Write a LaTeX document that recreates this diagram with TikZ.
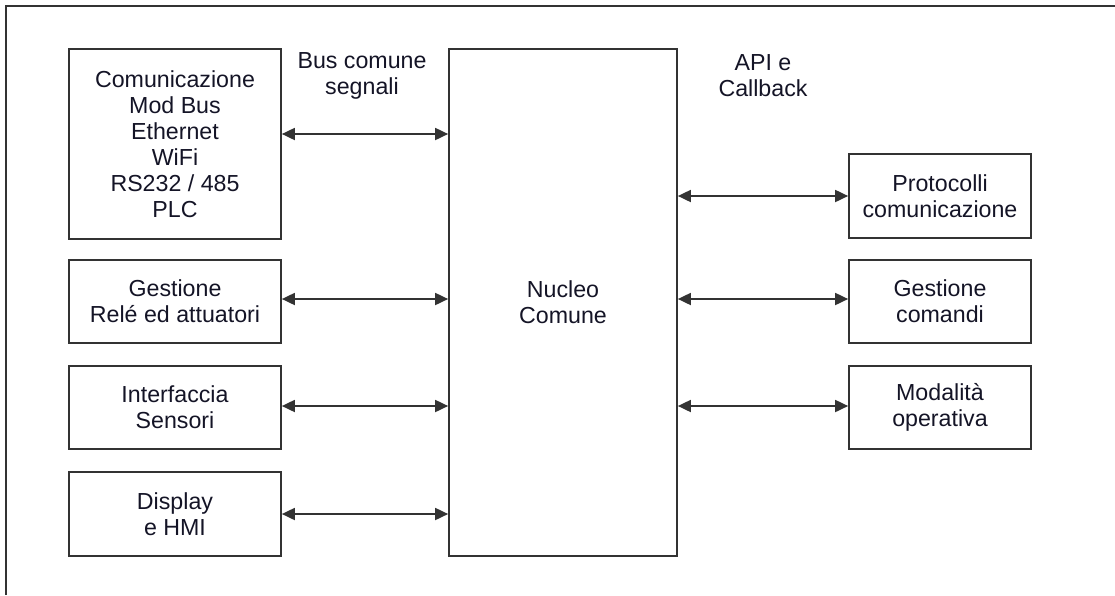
\documentclass[tikz,border=0pt]{standalone}
\usepackage{fontspec}
\setmainfont{Liberation Sans}
\usetikzlibrary{arrows.meta}
\definecolor{ln}{rgb}{0.2,0.2,0.2}
\definecolor{tx}{rgb}{0.08,0.08,0.15}
\begin{document}
\begin{tikzpicture}[x=1pt,y=-1pt,
  box/.style={draw=ln,line width=1.7pt,align=center,text=tx,inner sep=0pt,
    font=\fontsize{23.2}{26}\selectfont},
  lbl/.style={align=center,text=tx,inner sep=0pt,font=\fontsize{23.2}{26}\selectfont},
  arr/.style={draw=ln,line width=1.8pt,{Triangle[length=13pt,width=12pt]}-{Triangle[length=13pt,width=12pt]}}]
\useasboundingbox (0,0) rectangle (1115,595);
\draw[ln,line width=1.8pt] (6,595) -- (6,6) -- (1115,6);
% center
\node[box,minimum width=228pt,minimum height=507pt] (n) at (563,302.5) {Nucleo\\Comune};
% left
\node[box,minimum width=212pt,minimum height=190pt] (a) at (175,144) {Comunicazione\\Mod Bus\\Ethernet\\WiFi\\RS232 / 485\\PLC};
\node[box,minimum width=212pt,minimum height=83pt] (b) at (175,301.5) {Gestione\\Relé ed attuatori};
\node[box,minimum width=212pt,minimum height=83pt] (c) at (175,407.5) {Interfaccia\\Sensori};
\node[box,minimum width=212pt,minimum height=84pt] (d) at (175,514) {Display\\e HMI};
% right
\node[box,minimum width=182pt,minimum height=84pt] (e) at (940,196) {Protocolli\\comunicazione};
\node[box,minimum width=182pt,minimum height=83pt] (f) at (940,301.5) {Gestione\\comandi};
\node[box,minimum width=182pt,minimum height=83pt] (g) at (940,407.5) {Modalità\\operativa};
% labels
\node[lbl] (l1) at (362,76) {Bus comune\\segnali};
\node[lbl] (l2) at (763,76) {API e\\Callback};
% arrows
\draw[arr] (a.east |- 0,134) -- (n.west |- 0,134);
\draw[arr] (b.east |- 0,299) -- (n.west |- 0,299);
\draw[arr] (c.east |- 0,406) -- (n.west |- 0,406);
\draw[arr] (d.east |- 0,514) -- (n.west |- 0,514);
\draw[arr] (n.east |- 0,196) -- (e.west |- 0,196);
\draw[arr] (n.east |- 0,299) -- (f.west |- 0,299);
\draw[arr] (n.east |- 0,406) -- (g.west |- 0,406);
\end{tikzpicture}
\end{document}
